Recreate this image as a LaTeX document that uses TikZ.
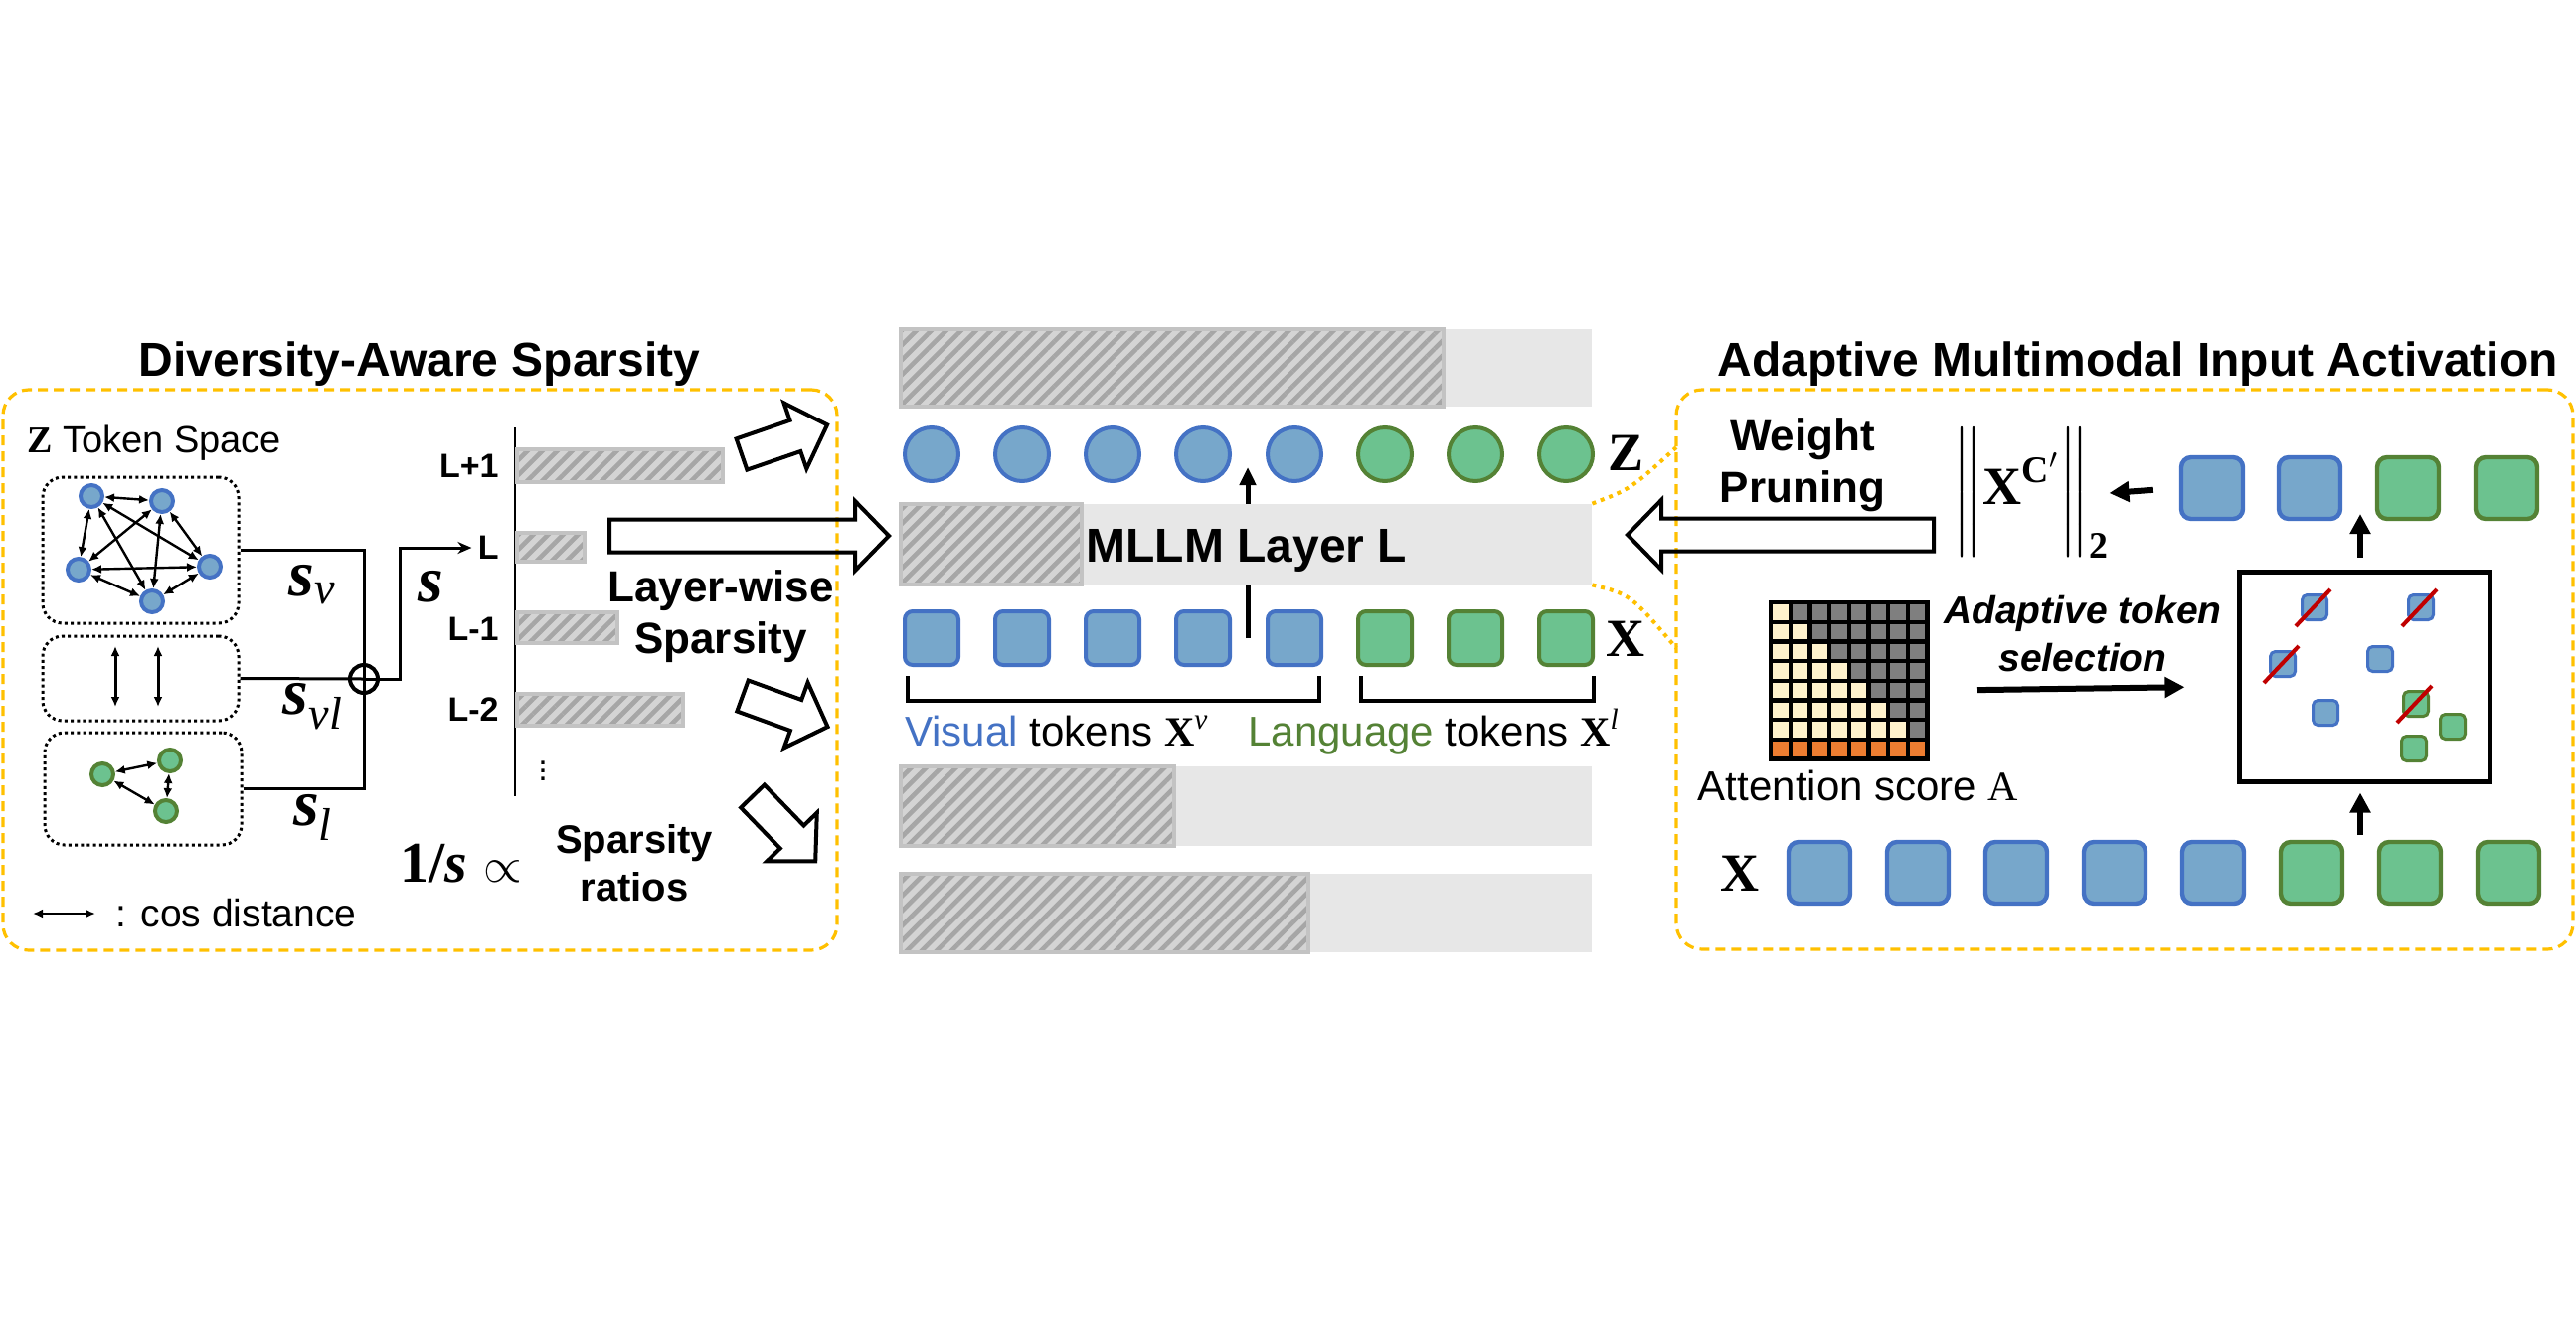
\documentclass[tikz,border=0pt]{standalone}
\usepackage{amssymb,amsmath}
\usepackage[no-math]{fontspec}
\setmainfont{Liberation Sans}
\newfontfamily\serif{Liberation Serif}
\newcommand{\serifb}{\serif\bfseries}
\newcommand{\serifbi}{\serif\bfseries\itshape}
\newcommand{\serifi}{\serif\itshape}
\usepackage{tikz}
\usetikzlibrary{arrows.meta}
\usetikzlibrary{patterns.meta}

\definecolor{visblue}{HTML}{4472C4}
\definecolor{visfill}{HTML}{77A7CB}
\definecolor{langgreen}{HTML}{548235}
\definecolor{langfill}{HTML}{6CC28F}
\definecolor{panelorange}{HTML}{FFC000}
\definecolor{layergray}{HTML}{E7E7E7}
\definecolor{hatchfill}{HTML}{D4D4D4}
\definecolor{hatchline}{HTML}{A6A6A6}
\definecolor{hatchedge}{HTML}{C3C3C3}
\definecolor{attncream}{HTML}{FFF2CC}
\definecolor{attngray}{HTML}{7F7F7F}
\definecolor{attnorange}{HTML}{ED7D31}
\definecolor{dropred}{HTML}{C00000}

\begin{document}
\begin{tikzpicture}[x=0.5pt, y=-0.5pt,
  gv/.style={circle, draw=visblue, fill=visfill, line width=2pt, minimum size=11pt, inner sep=0pt},
  gl/.style={circle, draw=langgreen, fill=langfill, line width=2pt, minimum size=11pt, inner sep=0pt},
  gedge/.style={{Latex[length=5pt,width=4.5pt]}-{Latex[length=5pt,width=4.5pt]}, line width=1.2pt},
  tokbox/.style={draw, line width=1.5pt, dash pattern=on 1.5pt off 1.6pt, rounded corners=10pt, inner sep=0pt},
  panel/.style={draw=panelorange, line width=1.6pt, dash pattern=on 5pt off 3pt, rounded corners=13pt, inner sep=0pt},
  wire/.style={line width=1.5pt},
  zv/.style={circle, draw=visblue, fill=visfill, line width=2pt, minimum size=27pt, inner sep=0pt},
  zl/.style={circle, draw=langgreen, fill=langfill, line width=2pt, minimum size=27pt, inner sep=0pt},
  xv/.style={rectangle, rounded corners=4pt, draw=visblue, fill=visfill, line width=2pt, minimum size=27pt, inner sep=0pt},
  xl/.style={rectangle, rounded corners=4pt, draw=langgreen, fill=langfill, line width=2pt, minimum size=27pt, inner sep=0pt},
  rv/.style={xv, minimum size=31pt, rounded corners=5pt, line width=2.2pt},
  rl/.style={xl, minimum size=31pt, rounded corners=5pt, line width=2.2pt},
  mv/.style={xv, minimum size=12.5pt, rounded corners=2.5pt, line width=1.5pt},
  ml/.style={xl, minimum size=12.5pt, rounded corners=2.5pt, line width=1.5pt},
  drop/.style={draw=dropred, line width=2pt},
  hatchbar/.style={preaction={fill=hatchfill}, pattern={Lines[angle=45,distance=5.3pt,line width=2.3pt]}, pattern color=hatchline, draw=hatchedge, line width=2pt},
  thickarrow/.style={-{Triangle[length=10pt,width=10pt]}, line width=3pt},
  midarrow/.style={-{Triangle[length=9pt,width=8pt]}, line width=2.5pt},
  linkdot/.style={draw=panelorange, line width=2pt, dash pattern=on 2pt off 2.5pt},
  ttl/.style={font=\fontsize{24}{28}\selectfont\bfseries, anchor=base, inner sep=0pt},
  bigtxt/.style={font=\fontsize{22}{26}\selectfont\bfseries, align=center, inner sep=0pt},
  barlab/.style={font=\fontsize{17}{20}\selectfont\bfseries, anchor=east, inner sep=3pt},
  slab/.style={font=\fontsize{33}{36}\selectfont, inner sep=0pt},
  rowlab/.style={font=\fontsize{27}{30}\selectfont\serifb, inner sep=0pt},
  toklab/.style={font=\fontsize{21}{25}\selectfont, anchor=base west, inner sep=0pt},
  pics/harrow/.style={code={
    \draw[line width=2pt, line join=miter] (0,-16.5) -- (#1-34,-16.5) -- (#1-34,-35) -- (#1,0)
      -- (#1-34,35) -- (#1-34,16.5) -- (0,16.5) -- cycle;}}
]
\useasboundingbox (0,0) rectangle (2591,1344);

% two panels and their titles
\node[panel, minimum width=419.5pt, minimum height=282pt] (dasbox) at (422.5,674) {};
\node[panel, minimum width=451pt, minimum height=281.5pt] (aibox) at (2137,673.5) {};
\node[ttl] (dastitle) at (422,378) {Diversity-Aware Sparsity};
\node[ttl] (aititle) at (2150,378) {Adaptive Multimodal Input Activation};

% token space
\node[font=\fontsize{19}{23}\selectfont, anchor=base west, inner sep=0pt] (zspace) at (27,455) {{\serifb Z} Token Space};
\node[tokbox, minimum width=98.5pt, minimum height=73.5pt] (vbox) at (141.5,553.5) {};
\node[tokbox, minimum width=98.5pt, minimum height=42.5pt] (vlbox) at (141.5,682.5) {};
\node[tokbox, minimum width=99pt, minimum height=56.5pt] (lbox) at (144,793.5) {};

\node[gv] (v1) at (92,499) {};
\node[gv] (v2) at (163,504) {};
\node[gv] (v3) at (79,573) {};
\node[gv] (v4) at (211,570) {};
\node[gv] (v5) at (153,605) {};
\draw[gedge] (v1) -- (v2);
\draw[gedge] (v1) -- (v3);
\draw[gedge] (v1) -- (v4);
\draw[gedge] (v1) -- (v5);
\draw[gedge] (v2) -- (v3);
\draw[gedge] (v2) -- (v4);
\draw[gedge] (v2) -- (v5);
\draw[gedge] (v3) -- (v4);
\draw[gedge] (v3) -- (v5);
\draw[gedge] (v4) -- (v5);

\draw[gedge, line width=1.5pt] (116,650) -- (116,711);
\draw[gedge, line width=1.5pt] (159,650) -- (159,711);

\node[gl] (l1) at (103,779) {};
\node[gl] (l2) at (171,765) {};
\node[gl] (l3) at (167,816) {};
\draw[gedge] (l1) -- (l2);
\draw[gedge] (l1) -- (l3);
\draw[gedge] (l2) -- (l3);

\draw[gedge] (33,919) -- (96,919);
\node[font=\fontsize{19.5}{23}\selectfont, anchor=west, inner sep=0pt] (cosdist) at (116,919) {: cos distance};

% combining the three sparsities
\node[circle, draw, line width=2pt, minimum size=14pt, inner sep=0pt] (plus) at (366,683) {};
\draw[wire] (vbox.east) -| (plus.center);
\draw[wire] (lbox.east) -| (plus.center);
\draw[wire] (vlbox.east) -- (plus.center);
\node[slab] (sv) at (314,588) {$\text{\serifbi s}_{\text{\serifi v}}$};
\node[slab] (svl) at (315,711) {$\text{\serifbi s}_{\text{\serifi vl}}$};
\node[slab] (sl) at (315,822) {$\text{\serifbi s}_{\text{\serifi l}}$};

% layer-wise ratios
\draw[line width=1.2pt] (518,430) -- (518,801);
\node[barlab] (labL1) at (508,469) {L+1};
\node[barlab] (labL) at (508,551) {L};
\node[barlab] (labLm1) at (508,633) {L-1};
\node[barlab] (labLm2) at (508,714) {L-2};
\node[font=\fontsize{17}{20}\selectfont, inner sep=0pt] (vdots) at (546,770) {$\vdots$};
\draw[hatchbar] (520,452) rectangle (727,485);
\draw[hatchbar] (520,536) rectangle (588,565);
\draw[hatchbar] (520,616) rectangle (621,647);
\draw[hatchbar] (520,698) rectangle (687,730);
\draw[wire, -{Stealth[length=7pt,width=6pt]}] (plus.center) -- ++(36,0) |- (labL.west);
\node[slab] (s) at (433,590) {\serifbi s};

\node[bigtxt] (lwise) at (725,620) {Layer-wise\\Sparsity};
\node[font=\fontsize{29}{32}\selectfont, inner sep=0pt] (inv) at (464,869) {{\serifb 1/}{\serifbi s} $\propto$};
\node[bigtxt, font=\fontsize{20}{24}\selectfont\bfseries] (ratios) at (638,868) {Sparsity\\ratios};

\pic[rotate=19] at (746,457) {harrow=91};
\pic[rotate=-20] at (747,700) {harrow=91};
\pic[rotate=-46] at (757,801) {harrow=91};
\pic at (613,539) {harrow=281};

% MLLM layers
\fill[layergray] (906,331) rectangle (1601,409);
\draw[hatchbar] (906,331) rectangle (1452,409);
\coordinate (flowin) at (1255,642);
\coordinate (flowout) at (1255,470);
\draw[midarrow] (flowin) -- (flowout);
\node[fill=layergray, minimum width=347.5pt, minimum height=40.5pt, inner sep=0pt] (layer) at (1253.5,547.5) {};
\draw[hatchbar] (906,507) rectangle (1088,588);
\node[font=\fontsize{24}{28}\selectfont\bfseries, anchor=base, inner sep=0pt] (layername) at (1254,565) {MLLM Layer L};
\fill[layergray] (906,771) rectangle (1601,851);
\draw[hatchbar] (906,771) rectangle (1181,851);
\fill[layergray] (906,879) rectangle (1601,958);
\draw[hatchbar] (906,879) rectangle (1316,958);

\node[zv] (z1) at (937,457) {};
\node[zv] (z2) at (1028,457) {};
\node[zv] (z3) at (1119,457) {};
\node[zv] (z4) at (1210,457) {};
\node[zv] (z5) at (1302,457) {};
\node[zl] (z6) at (1393,457) {};
\node[zl] (z7) at (1484,457) {};
\node[zl] (z8) at (1575,457) {};
\node[rowlab] (zlab) at (1635,456) {Z};

\node[xv] (x1) at (937,642) {};
\node[xv] (x2) at (1028,642) {};
\node[xv] (x3) at (1119,642) {};
\node[xv] (x4) at (1210,642) {};
\node[xv] (x5) at (1302,642) {};
\node[xl] (x6) at (1393,642) {};
\node[xl] (x7) at (1484,642) {};
\node[xl] (x8) at (1575,642) {};
\node[rowlab] (xlab) at (1635,643) {X};

\draw[line width=2pt] (913,680) -- (913,705) -- (1327,705) -- (1327,680);
\draw[line width=2pt] (1369,680) -- (1369,705) -- (1603,705) -- (1603,680);
\node[toklab] (vistxt) at (910,750) {\textcolor{visblue}{Visual} tokens $\text{\serifb X}^{\text{\serifi v}}$};
\node[toklab] (langtxt) at (1255,750) {\textcolor{langgreen}{Language} tokens $\text{\serifb X}^{\text{\serifi l}}$};

% links to the input activation panel
\coordinate (aiup) at (1686,450);
\coordinate (aidown) at (1686,652);
\draw[linkdot] (layer.north east) .. controls (1640,492) .. (aiup);
\draw[linkdot] (layer.south east) .. controls (1640,598) .. (aidown);

% adaptive multimodal input activation
\node[bigtxt] (wprune) at (1813,468) {Weight\\Pruning};
\pic[rotate=180] at (1945,538) {harrow=308};
\node[font=\fontsize{27}{26}\selectfont, inner sep=0pt] (norm) at (2043,496) {$\bigg\|\text{\serifb X}^{\text{\serifb C}'}\bigg\|_{\text{\serifb 2}}$};

\node[rv] (r1) at (2225,491) {};
\node[rv] (r2) at (2323,491) {};
\node[rl] (r3) at (2422,491) {};
\node[rl] (r4) at (2521,491) {};
\draw[thickarrow, shorten <=13pt] (r1.west) -- (norm.east);

\foreach \r in {0,...,7}{
  \foreach \c in {0,...,7}{
    \ifnum\r=7 \def\cellcol{attnorange}\else\ifnum\c>\r \def\cellcol{attngray}\else\def\cellcol{attncream}\fi\fi
    \filldraw[fill=\cellcol, line width=2.2pt] ({1781+19.7*\c},{606+19.7*\r}) rectangle ++(19.7,19.7);
  }
}
\node[minimum width=78.8pt, minimum height=78.8pt, inner sep=0pt] (attn) at (1859.8,684.8) {};
\node[font=\fontsize{21}{25}\selectfont, inner sep=0pt] (attntxt) at (1869,790) {Attention score {\serif A}};
\node[bigtxt, font=\fontsize{19.5}{24}\selectfont\bfseries\itshape] (adasel) at (2095,638) {Adaptive token\\selection};

\node[draw, line width=2.5pt, minimum width=126pt, minimum height=105.5pt, inner sep=0pt] (sel) at (2378,680.5) {};
\draw[thickarrow, shorten <=25pt, shorten >=26pt] ([yshift=-5pt]attn.east) -- ([yshift=-5pt]sel.west);

\node[mv] (s1) at (2328,611) {};
\node[mv] (s2) at (2435,611) {};
\node[mv] (s3) at (2296,668) {};
\node[mv] (s4) at (2394,663) {};
\node[mv] (s5) at (2339,717) {};
\node[ml] (t1) at (2430,708) {};
\node[ml] (t2) at (2467,731) {};
\node[ml] (t3) at (2428,753) {};
\draw[drop] ([shift={(-19,19)}]s1.center) -- ([shift={(16,-18)}]s1.center);
\draw[drop] ([shift={(-19,19)}]s2.center) -- ([shift={(16,-18)}]s2.center);
\draw[drop] ([shift={(-19,19)}]s3.center) -- ([shift={(16,-18)}]s3.center);
\draw[drop] ([shift={(-19,19)}]t1.center) -- ([shift={(16,-18)}]t1.center);

\node[rv] (b1) at (1830,878) {};
\node[rv] (b2) at (1929,878) {};
\node[rv] (b3) at (2028,878) {};
\node[rv] (b4) at (2127,878) {};
\node[rv] (b5) at (2226,878) {};
\node[rl] (b6) at (2325,878) {};
\node[rl] (b7) at (2424,878) {};
\node[rl] (b8) at (2523,878) {};
\node[rowlab] (xinlab) at (1750,879) {X};

\coordinate (selin) at (2374,840);
\coordinate (selout) at (2374,517);
\draw[thickarrow, shorten >=4.5pt] (selin) -- (selin |- sel.south);
\draw[thickarrow, shorten <=6pt] (selout |- sel.north) -- (selout);
\end{tikzpicture}
\end{document}
